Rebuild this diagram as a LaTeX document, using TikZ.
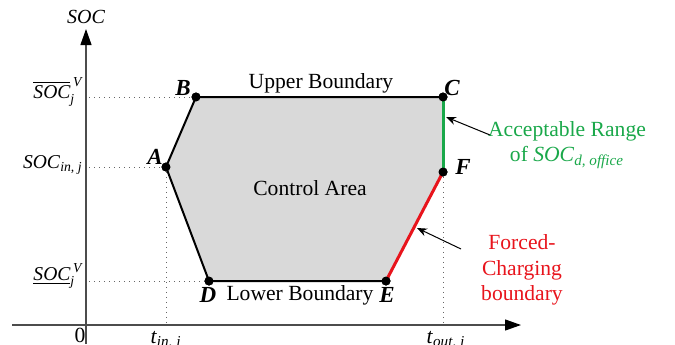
\documentclass[tikz,border=0pt]{standalone}
\usepackage{amsmath}
\usepackage{fontspec}
\setmainfont{Liberation Serif}
\usetikzlibrary{arrows.meta}
\definecolor{okgreen}{RGB}{26,168,74}
\definecolor{forcered}{RGB}{232,20,28}
\tikzset{
    axis/.style={-{Triangle[length=8pt,width=5.5pt,black]}, line width=0.6pt, black!70},
    guide/.style={dotted, line width=0.5pt, black!60},
    bound/.style={line width=1pt},
    area/.style={fill=black!15},
    dot/.style={circle, fill, inner sep=0pt, minimum size=4.5pt},
    pt/.style={font=\fontsize{11.5}{13}\selectfont\bfseries\itshape},
    note/.style={align=center, font=\fontsize{10.8}{12.6}\selectfont},
    ylab/.style={anchor=east, inner sep=1pt, font=\fontsize{9.8}{11}\selectfont},
    pointer/.style={-{Stealth[length=5pt,width=4pt]}, line width=0.5pt},
}
\newcommand{\socit}[1]{\text{\itshape #1}}

\begin{document}
\begin{tikzpicture}[x=0.5pt, y=-0.5pt, font=\fontsize{10.8}{12.6}\selectfont]

    \useasboundingbox (0,0) rectangle (675,344);

    % axes
    \coordinate (xs) at (12,325);
    \coordinate (xe) at (521,325);
    \coordinate (ys) at (86,344);
    \coordinate (ye) at (86,29);
    \draw[axis] (xs) -- (xe);
    \draw[axis] (ys) -- (ye);
    \node[font=\fontsize{10}{11}\selectfont\itshape] (yname) at (86,17) {SOC};
    \node (zero) at (80,335) {0};

    % corner points
    \node[dot] (A) at (166,167) {};
    \node[dot] (B) at (196,97) {};
    \node[dot] (C) at (443,97) {};
    \node[dot] (D) at (209,281) {};
    \node[dot] (E) at (386,281) {};
    \node[dot] (F) at (443,172) {};

    % guide lines
    \coordinate (gB) at (89,97);
    \coordinate (gA) at (89,167);
    \coordinate (gD) at (89,281);
    \coordinate (tin) at (166,325);
    \coordinate (tout) at (443,325);
    \draw[guide] (gB) -- (B);
    \draw[guide] (gA) -- (A);
    \draw[guide] (gD) -- (D);
    \draw[guide] (A) -- (tin);
    \draw[guide] (F) -- (tout);

    % control area
    \fill[area] (A.center) -- (B.center) -- (C.center) -- (F.center)
        -- (E.center) -- (D.center) -- cycle;
    \draw[bound] (E.center) -- (D.center) -- (A.center) -- (B.center) -- (C.center);
    \draw[bound, okgreen, line width=1.5pt] (C.center) -- (F.center);
    \draw[bound, forcered, line width=1.5pt] (F.center) -- (E.center);
    \foreach \p in {A,B,C,D,E,F}
        \node[dot] at (\p) {};

    % point names
    \node[pt] (nA) at (155,157) {A};
    \node[pt] (nB) at (183,88) {B};
    \node[pt] (nC) at (452,88) {C};
    \node[pt] (nD) at (208,295) {D};
    \node[pt] (nE) at (387,295) {E};
    \node[pt] (nF) at (463,167) {F};

    % axis labels
    \node[ylab] (smax) at (85,92)
        {$\overline{\socit{SOC}}^{\,\socit{V}}_{\socit{j}}$};
    \node[ylab] (sin) at (85,165)
        {\textit{SOC}\textsubscript{\textit{in, j}}};
    \node[ylab] (smin) at (85,276)
        {$\underline{\socit{SOC}}^{\,\socit{V}}_{\socit{j}}$};
    \node[anchor=north, inner sep=1pt] (ltin) at (166,329)
        {\textit{t}\textsubscript{\textit{in, j}}};
    \node[anchor=north, inner sep=1pt] (ltout) at (446,329)
        {\textit{t}\textsubscript{\textit{out, j}}};

    % region texts
    \node (upper) at (321,83) {Upper Boundary};
    \node (lower) at (300,295) {Lower Boundary};
    \node (ctrl) at (310,188) {Control Area};

    % annotations
    \node[note, okgreen] (acc) at (567,145)
        {Acceptable Range\\of \textit{SOC}\textsubscript{\textit{d, office}}};
    \node[note, forcered] (force) at (522,270) {Forced-\\Charging\\boundary};
    \coordinate (accs) at (490,135);
    \coordinate (acct) at (446,117);
    \coordinate (fors) at (461,249);
    \coordinate (fort) at (417,228);
    \draw[pointer] (accs) -- (acct);
    \draw[pointer] (fors) -- (fort);

\end{tikzpicture}
\end{document}
